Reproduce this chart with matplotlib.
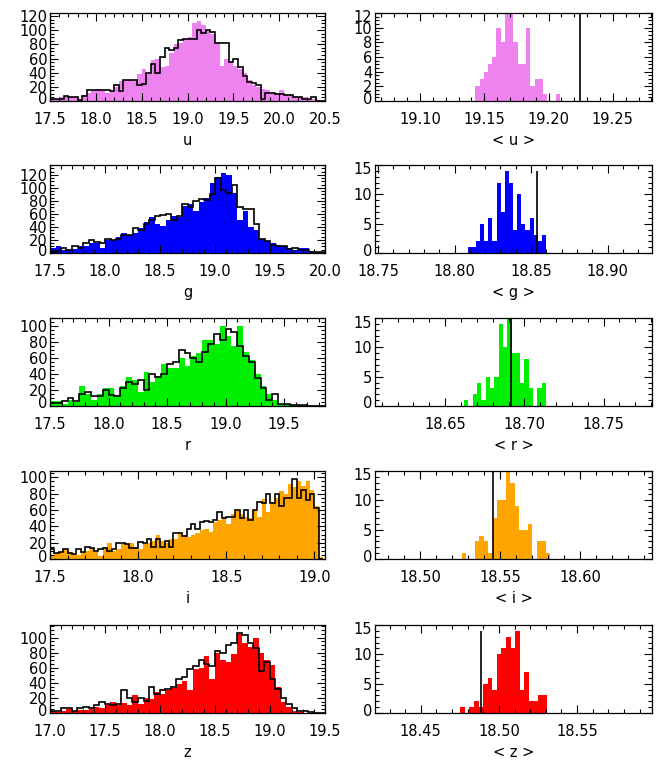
import numpy as np
import matplotlib
matplotlib.use("Agg")
import matplotlib.pyplot as plt
import matplotlib.transforms as mtransforms
from matplotlib.ticker import MultipleLocator, AutoMinorLocator, FormatStrFormatter

# ---------------- data ----------------
bands = ["u", "g", "r", "i", "z"]
fill_colors = ["violet", "#0000ff", "#00ee00", "#ffa500", "#ff0000"]

# left column: magnitude histograms (filled = sample, black step = model)
u_start, u_width = 17.5, 0.05
u_fill = [3, 3, 5, 7, 5, 5, 3, 8, 12, 15,
          17, 16, 12, 16, 20, 28, 30, 30, 28, 38,
          45, 38, 58, 60, 48, 50, 68, 80, 82, 88,
          90, 110, 113, 108, 100, 95, 82, 50, 60, 55,
          50, 45, 40, 30, 22, 20, 17, 15, 12, 12,
          15, 10, 8, 5, 6, 5, 3, 3, 2, 0]
u_step = [3, 3, 3, 7, 6, 5, 2, 7, 15, 15,
          16, 16, 15, 14, 23, 14, 30, 30, 30, 22,
          24, 40, 52, 40, 62, 75, 72, 75, 86, 87,
          88, 88, 100, 96, 100, 98, 82, 82, 82, 55,
          60, 48, 35, 27, 25, 22, 3, 12, 12, 10,
          10, 8, 8, 5, 5, 3, 3, 6, 0, 0]

g_start, g_width = 17.5, 0.05
g_fill = [8, 10, 5, 5, 6, 10, 10, 15, 15, 8,
          20, 20, 25, 30, 28, 30, 38, 47, 55, 45,
          42, 50, 57, 55, 73, 75, 65, 78, 85, 108,
          117, 123, 120, 92, 50, 65, 40, 35, 22, 18,
          15, 12, 10, 8, 5, 7, 8, 3, 2, 1]
g_step = [2, 3, 7, 5, 10, 8, 15, 20, 17, 15,
          22, 20, 22, 27, 28, 38, 35, 45, 50, 57,
          58, 60, 50, 57, 75, 70, 80, 83, 82, 90,
          115, 97, 92, 105, 70, 68, 67, 45, 22, 18,
          12, 10, 10, 6, 7, 5, 5, 2, 2, 1]

r_start, r_width = 17.5, 0.05
r_fill = [6, 6, 3, 7, 5, 25, 15, 8, 15, 23,
          22, 14, 25, 36, 32, 18, 43, 30, 38, 52,
          47, 47, 60, 50, 62, 66, 83, 82, 78, 100,
          88, 75, 100, 67, 58, 40, 25, 15, 8, 3,
          2, 1, 1, 0, 0, 0, 0]
r_step = [4, 4, 6, 10, 6, 15, 18, 12, 13, 20,
          14, 13, 22, 30, 27, 32, 20, 40, 36, 40,
          52, 55, 70, 66, 60, 55, 67, 78, 90, 82,
          96, 92, 75, 62, 55, 35, 22, 8, 15, 3,
          2, 1, 1, 1, 0, 0, 0]

i_start, i_width = 17.5, 0.025
i_fill = [5, 7, 8, 11, 9, 6, 5, 8, 10, 12,
          8, 4, 12, 20, 10, 12, 18, 18, 20, 15,
          12, 18, 20, 22, 29, 22, 20, 24, 25, 33,
          30, 27, 30, 32, 35, 37, 33, 45, 48, 52,
          43, 55, 60, 55, 52, 50, 60, 52, 73, 57,
          70, 75, 83, 80, 92, 88, 95, 90, 95, 85,
          65, 2]
i_step = [12, 7, 8, 12, 7, 6, 12, 8, 15, 14,
          10, 12, 14, 10, 12, 20, 19, 18, 14, 13,
          21, 20, 25, 15, 24, 15, 22, 15, 32, 32,
          28, 37, 43, 37, 45, 47, 45, 48, 58, 50,
          51, 51, 60, 50, 60, 48, 60, 70, 68, 80,
          68, 80, 65, 75, 75, 98, 75, 85, 72, 80,
          63, 0]

z_start, z_width = 17.0, 0.05
z_fill = [2, 1, 2, 5, 3, 4, 4, 5, 8, 7,
          10, 15, 10, 13, 10, 24, 12, 20, 18, 28,
          25, 30, 33, 38, 42, 30, 58, 60, 75, 45,
          80, 70, 68, 78, 105, 93, 88, 100, 80, 70,
          63, 35, 15, 8, 3, 1, 0, 0, 0, 0]
z_step = [2, 3, 6, 7, 3, 6, 8, 7, 10, 15,
          12, 10, 12, 30, 20, 15, 20, 16, 35, 25,
          30, 32, 35, 45, 48, 58, 62, 70, 65, 62,
          82, 80, 90, 93, 106, 103, 93, 86, 55, 68,
          45, 32, 20, 12, 6, 3, 2, 1, 0, 0]

left_xlims = [(17.5, 20.5), (17.5, 20.0), (17.5, 19.85), (17.5, 19.06), (17.0, 19.5)]

# right column: histograms of mean magnitudes, with reference value line
um_start, um_width = 19.143, 0.0033
um_counts = [2, 3, 4, 5, 6, 10, 8, 12, 13, 8, 5, 5, 10, 2, 3, 3, 1, 0, 0, 1]
u_ref = 19.2247

gm_start, gm_width = 18.8085, 0.0027
gm_counts = [1, 1, 2, 5, 2, 6, 2, 12, 7, 14, 12, 4, 10, 5, 4, 6, 3, 2, 3, 0]
g_ref = 18.854

rm_start, rm_width = 18.662, 0.00272
rm_counts = [1, 0, 2, 4, 1, 5, 3, 5, 14, 10, 16, 9, 9, 4, 8, 3, 0, 3, 4, 0]
r_ref = 18.6916

im_start, im_width = 18.526, 0.00276
im_counts = [1, 0, 0, 3, 4, 3, 1, 7, 10, 10, 15, 13, 9, 5, 5, 6, 0, 3, 3, 1]
i_ref = 18.5458

zm_start, zm_width = 18.4752, 0.00294
zm_counts = [1, 0, 1, 2, 1, 5, 6, 4, 10, 11, 13, 11, 14, 4, 7, 2, 2, 3, 3, 0]
z_ref = 18.4887

right_xlims = [(19.065, 19.2805), (18.748, 18.929), (18.6058, 18.7805),
               (18.4719, 18.6448), (18.4207, 18.598)]
right_ymax = [12, 15, 15, 15, 15]
right_ystep = [2, 5, 5, 5, 5]

# ---------------- figure ----------------
W, H = 658, 761
fig = plt.figure(figsize=(W / 100, H / 100), dpi=100)
plt.rcParams["font.family"] = ["DejaVu Sans"]
FS = 10.5

row_tops = [13, 165, 318, 471, 625]
ax_h = 88


def edges_of(start, width, n):
    return start + width * np.arange(n + 1)


def style(ax, xmaj, ymaj, xfmt, ytop):
    ax.xaxis.set_major_locator(MultipleLocator(xmaj))
    ax.xaxis.set_minor_locator(AutoMinorLocator())
    ax.xaxis.set_major_formatter(FormatStrFormatter(xfmt))
    yt = np.arange(0, ytop + 1e-9, ymaj)
    ax.set_yticks(yt)
    ax.set_yticklabels([f"{int(v)}" for v in yt])
    ax.yaxis.set_minor_locator(AutoMinorLocator())
    ax.tick_params(which="both", direction="in", top=True, right=True,
                   labelsize=FS, width=0.8)
    ax.tick_params(which="major", length=6)
    ax.tick_params(which="minor", length=3)
    ax.tick_params(axis="x", pad=8)
    ax.tick_params(axis="y", pad=2)
    for s in ax.spines.values():
        s.set_linewidth(0.9)
    labs = ax.get_yticklabels()
    up = mtransforms.ScaledTranslation(0, 3.5 / 100, fig.dpi_scale_trans)
    labs[0].set_transform(labs[0].get_transform() + up)
    ylim_top = ax.get_ylim()[1]
    if abs(yt[-1] - ylim_top) < 1e-6:
        down = mtransforms.ScaledTranslation(0, -3.5 / 100, fig.dpi_scale_trans)
        labs[-1].set_transform(labs[-1].get_transform() + down)


left_data = [(u_start, u_width, u_fill, u_step),
             (g_start, g_width, g_fill, g_step),
             (r_start, r_width, r_fill, r_step),
             (i_start, i_width, i_fill, i_step),
             (z_start, z_width, z_fill, z_step)]
right_data = [(um_start, um_width, um_counts, u_ref),
              (gm_start, gm_width, gm_counts, g_ref),
              (rm_start, rm_width, rm_counts, r_ref),
              (im_start, im_width, im_counts, i_ref),
              (zm_start, zm_width, zm_counts, z_ref)]

for k, band in enumerate(bands):
    bottom = 1 - (row_tops[k] + ax_h) / H
    # left panel
    axl = fig.add_axes([50 / W, bottom, 275 / W, ax_h / H])
    st, wd, fl, sp = left_data[k]
    e = edges_of(st, wd, len(fl))
    axl.stairs(fl, e, fill=True, color=fill_colors[k], linewidth=0)
    axl.stairs(sp, e, baseline=0, color="black", linewidth=1.2)
    ytop = 1.1 * max(max(fl), max(sp))
    axl.set_xlim(*left_xlims[k])
    axl.set_ylim(0, ytop)
    style(axl, 0.5, 20, "%.1f", ytop)
    axl.set_xlabel(band, fontsize=FS, labelpad=4)

    # right panel
    axr = fig.add_axes([375 / W, bottom, 277 / W, ax_h / H])
    st, wd, cn, ref = right_data[k]
    e = edges_of(st, wd, len(cn))
    axr.stairs(cn, e, fill=True, color=fill_colors[k], linewidth=0)
    axr.vlines(ref, 0, max(cn), color="black", linewidth=1.2)
    axr.set_xlim(*right_xlims[k])
    axr.set_ylim(0, right_ymax[k])
    style(axr, 0.05, right_ystep[k], "%.2f", right_ymax[k])
    axr.set_xlabel(f"< {band} >", fontsize=FS, labelpad=4)

fig.savefig("out.png", dpi=100)
